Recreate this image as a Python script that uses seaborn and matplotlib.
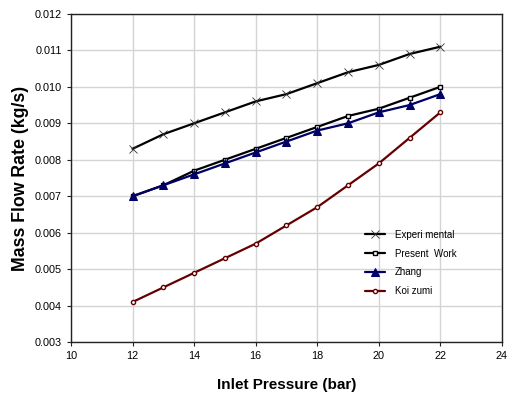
import numpy as np
import pandas as pd
import matplotlib
matplotlib.use("Agg")
import matplotlib.pyplot as plt
import seaborn as sns

# Inlet pressure (bar) and mass flow rate (kg/s) for each data set
pressure = [12, 13, 14, 15, 16, 17, 18, 19, 20, 21, 22]
experimental = [0.0083, 0.0087, 0.0090, 0.0093, 0.0096, 0.0098, 0.0101, 0.0104, 0.0106, 0.0109, 0.0111]
present_work = [0.0070, 0.0073, 0.0077, 0.0080, 0.0083, 0.0086, 0.0089, 0.0092, 0.0094, 0.0097, 0.0100]
zhang = [0.0070, 0.0073, 0.0076, 0.0079, 0.0082, 0.0085, 0.0088, 0.0090, 0.0093, 0.0095, 0.0098]
koizumi = [0.0041, 0.0045, 0.0049, 0.0053, 0.0057, 0.0062, 0.0067, 0.0073, 0.0079, 0.0086, 0.0093]

series_names = ["Experi mental", "Present  Work", "Zhang", "Koi zumi"]
series_values = [experimental, present_work, zhang, koizumi]

df = pd.DataFrame({
    "Inlet Pressure (bar)": np.tile(pressure, len(series_names)),
    "Mass Flow Rate (kg/s)": np.concatenate(series_values),
    "Series": np.repeat(series_names, len(pressure)),
})

sns.set_style("white")
plt.rcParams["font.family"] = ["Liberation Sans", "DejaVu Sans"]
plt.rcParams["text.color"] = "black"
plt.rcParams["axes.labelcolor"] = "black"

fig = plt.figure(figsize=(5.07, 3.96), dpi=100)
ax = fig.add_axes([0.140, 0.136, 0.850, 0.829])

styles = {
    "Experi mental": dict(color="#000000", marker="x", markersize=6,
                          markeredgewidth=0.6, markeredgecolor="#333333"),
    "Present  Work": dict(color="#000000", marker="s", markersize=3.5,
                          markerfacecolor="white", markeredgecolor="#000000",
                          markeredgewidth=1.0),
    "Zhang": dict(color="#000066", marker="^", markersize=6,
                  markerfacecolor="#000066", markeredgecolor="#000066"),
    "Koi zumi": dict(color="#660000", marker="o", markersize=3,
                     markerfacecolor="white", markeredgecolor="#660000",
                     markeredgewidth=1.0),
}

for name in series_names:
    sub = df[df["Series"] == name]
    sns.lineplot(data=sub, x="Inlet Pressure (bar)", y="Mass Flow Rate (kg/s)",
                 linewidth=1.6, ax=ax, label=name, **styles[name])

ax.set_xlim(10, 24)
ax.set_ylim(0.003, 0.012)
ax.set_xticks(np.arange(10, 25, 2))
ax.set_yticks(np.arange(0.003, 0.0121, 0.001))
ax.yaxis.set_major_formatter(matplotlib.ticker.FormatStrFormatter("%.3f"))
ax.grid(True, color="#d4d4d4", linewidth=1.0)
ax.set_axisbelow(True)
for s in ax.spines.values():
    s.set_color("#222222"); s.set_linewidth(1.0)
ax.tick_params(axis="both", labelsize=7.8, length=3, width=0.8, direction="out",
               bottom=True, left=True, color="#222222", labelcolor="black")

ax.set_xlabel("Inlet Pressure (bar)", fontsize=11, fontweight="bold", labelpad=12)
ax.set_ylabel("Mass Flow Rate (kg/s)", fontsize=12.8, fontweight="bold", labelpad=4)

leg = ax.legend(loc="upper left", bbox_to_anchor=(0.661, 0.369),
                frameon=False, fontsize=7,
                handlelength=2.1, labelspacing=0.9, handletextpad=1.0)

fig.savefig("out.png", dpi=100)
